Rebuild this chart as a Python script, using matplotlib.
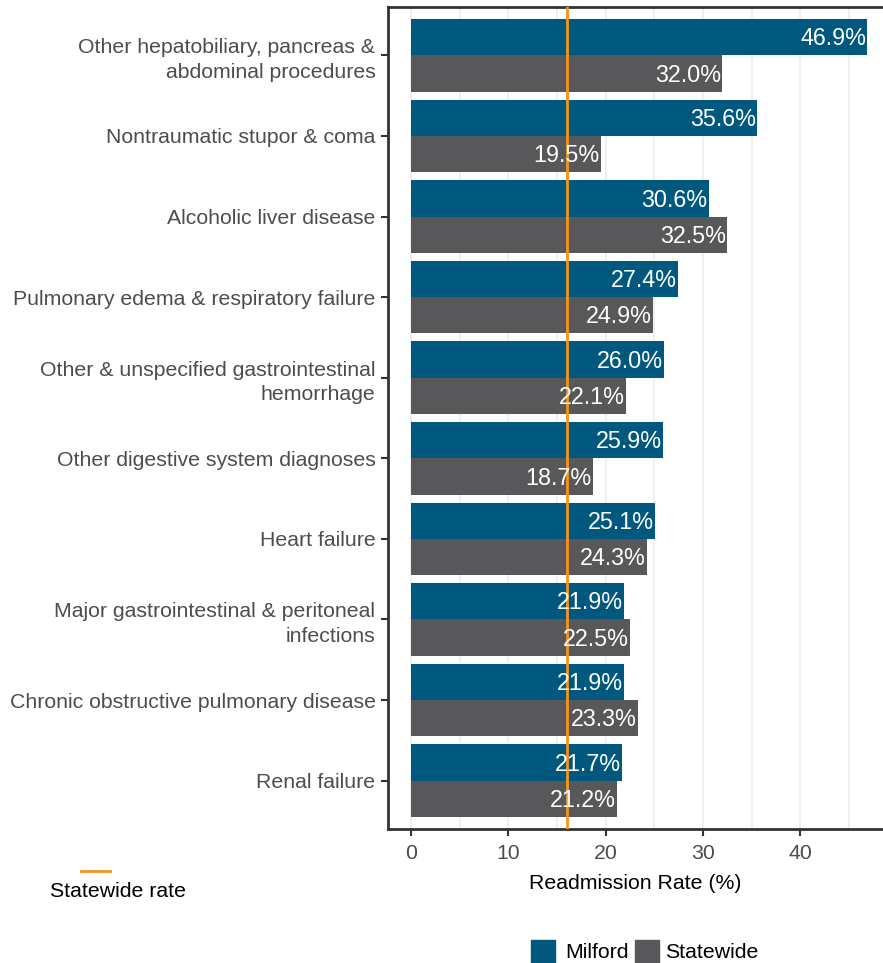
import matplotlib
matplotlib.use("Agg")
import matplotlib.pyplot as plt
import numpy as np
from matplotlib.patches import Rectangle
from matplotlib.lines import Line2D

plt.rcParams['font.family'] = ['Liberation Sans', 'DejaVu Sans']

categories = [
    "Other hepatobiliary, pancreas &\nabdominal procedures",
    "Nontraumatic stupor & coma",
    "Alcoholic liver disease",
    "Pulmonary edema & respiratory failure",
    "Other & unspecified gastrointestinal\nhemorrhage",
    "Other digestive system diagnoses",
    "Heart failure",
    "Major gastrointestinal & peritoneal\ninfections",
    "Chronic obstructive pulmonary disease",
    "Renal failure",
]
milford = [46.9, 35.6, 30.6, 27.4, 26.0, 25.9, 25.1, 21.9, 21.9, 21.7]
statewide = [32.0, 19.5, 32.5, 24.9, 22.1, 18.7, 24.3, 22.5, 23.3, 21.2]
statewide_rate = 16.0
xticks = [0, 10, 20, 30, 40]

C_MIL = "#00587F"
C_STA = "#58585B"
C_ORANGE = "#F7941D"
FS = 15.3
FS_BAR = 16.8

W, H = 883, 963
fig = plt.figure(figsize=(W / 100, H / 100), dpi=100)
ax = fig.add_axes([388 / W, (H - 829) / H, (W - 388) / W, (829 - 7) / H])

n = len(categories)
ypos = np.arange(n)[::-1] + 1  # top category highest
bh = 0.45
ax.barh(ypos + bh / 2, milford, height=bh, color=C_MIL, zorder=2)
ax.barh(ypos - bh / 2, statewide, height=bh, color=C_STA, zorder=2)

for y, v in zip(ypos, milford):
    ax.text(v - 0.12, y + bh / 2 - 0.02, f"{v:.1f}%", ha='right', va='center',
            color='white', fontsize=FS_BAR, zorder=4)
for y, v in zip(ypos, statewide):
    ax.text(v - 0.12, y - bh / 2 - 0.02, f"{v:.1f}%", ha='right', va='center',
            color='white', fontsize=FS_BAR, zorder=4)

ax.axvline(statewide_rate, color=C_ORANGE, lw=2, zorder=3)

ax.set_xlim(-2.345, 48.5)
ax.set_ylim(0.4, n + 0.6)
ax.set_xticks(xticks)
ax.set_xticks(np.arange(5, 50, 10), minor=True)
ax.set_yticks(ypos)
ax.set_yticklabels(categories)
for t in ax.get_yticklabels():
    t.set_multialignment('right')
    t.set_linespacing(1.35)
ax.grid(axis='x', which='both', color='#EBEBEB', lw=1.1, zorder=0)
ax.tick_params(axis='both', which='major', colors='#333333', labelcolor='#4D4D4D',
               labelsize=FS, length=5, width=1.5, pad=4)
ax.tick_params(axis='x', which='minor', length=0)
ax.tick_params(axis='x', which='major', pad=6)
ax.set_xlabel("Readmission Rate (%)", fontsize=FS, color='black', labelpad=8)
for s in ['left', 'bottom', 'top']:
    ax.spines[s].set_color('#333333')
    ax.spines[s].set_linewidth(2)
ax.spines['right'].set_visible(False)

# Statewide rate legend
fig.add_artist(Line2D([81 / W, 110 / W], [(H - 871) / H] * 2, color=C_ORANGE, lw=2,
                      transform=fig.transFigure))
fig.text(50 / W, (H - 891) / H, "Statewide rate", ha='left', va='center',
         fontsize=FS, color='black')

# Bar legend
fig.add_artist(Rectangle((531 / W, 0), 24 / W, 23 / H, color=C_MIL,
                         transform=fig.transFigure))
fig.text(565 / W, (H - 952) / H, "Milford", ha='left', va='center', fontsize=FS)
fig.add_artist(Rectangle((635 / W, 0), 24 / W, 23 / H, color=C_STA,
                         transform=fig.transFigure))
fig.text(665 / W, (H - 952) / H, "Statewide", ha='left', va='center', fontsize=FS)

fig.savefig("out.png", dpi=100)
